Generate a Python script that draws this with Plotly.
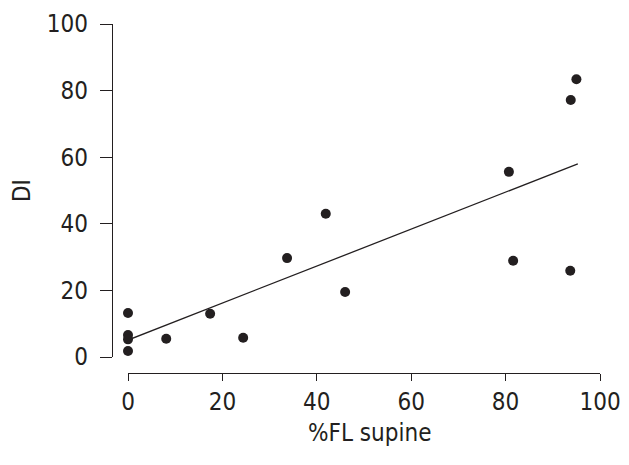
import plotly.graph_objects as go

# Data
fl_supine = [0, 0, 0, 0, 8.1, 17.4, 24.4, 33.7, 41.9, 46.0, 80.7, 81.6, 93.7, 93.8, 95.0]
di_values = [13.2, 6.6, 5.3, 1.8, 5.5, 13.0, 5.8, 29.7, 43.0, 19.5, 55.6, 28.9, 25.9, 77.2, 83.4]

# Regression line endpoints
fit_x = [0, 95.3]
fit_y = [5.1, 58.0]

x_ticks = [0, 20, 40, 60, 80, 100]
y_ticks = [0, 20, 40, 60, 80, 100]
x_title = "%FL supine"
y_title = "DI"

ink = "#231f20"
font_family = "DejaVu Sans Condensed, Liberation Sans Narrow, sans-serif"

fig = go.Figure()
fig.add_trace(go.Scatter(x=fit_x, y=fit_y, mode="lines",
                         line=dict(color=ink, width=1.3),
                         cliponaxis=False, showlegend=False, hoverinfo="skip"))
fig.add_trace(go.Scatter(x=fl_supine, y=di_values, mode="markers",
                         marker=dict(color=ink, size=10),
                         cliponaxis=False, showlegend=False))

# page body has an 8px default margin, so the figure is 8px smaller
W, H = 621, 457
ml, mr, mt, mb = 104, 29, 16, 92
pw = W - ml - mr
ph = H - mt - mb
off = 16

fig.update_layout(
    width=W, height=H,
    margin=dict(l=ml, r=mr, t=mt, b=mb, autoexpand=False),
    paper_bgcolor="white", plot_bgcolor="white",
    font=dict(family=font_family, size=24, color=ink),
    xaxis=dict(
        domain=[off / pw, 1], range=[0, 100],
        anchor="free", position=0, automargin=False,
        tickmode="array", tickvals=x_ticks,
        ticks="outside", ticklen=7, tickwidth=1.3, tickcolor=ink,
        showline=True, linecolor=ink, linewidth=1.3,
        showgrid=False, zeroline=False,
        ticklabelstandoff=0,
    ),
    yaxis=dict(
        domain=[off / ph, 1], range=[0, 100],
        anchor="free", position=0, automargin=False,
        tickmode="array", tickvals=y_ticks,
        ticks="outside", ticklen=12, tickwidth=1.3, tickcolor=ink,
        showline=True, linecolor=ink, linewidth=1.3,
        showgrid=False, zeroline=False,
        ticklabelstandoff=7,
        title=dict(text=y_title, standoff=15, font=dict(size=24)),
    ),
    annotations=[dict(
        text=x_title, xref="paper", yref="paper",
        x=0.528, y=-60 / ph, xanchor="center", yanchor="middle",
        showarrow=False, font=dict(size=24, color=ink),
    )],
)

fig.write_html("out.html")
